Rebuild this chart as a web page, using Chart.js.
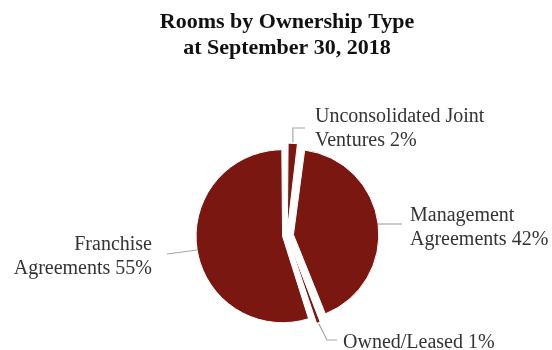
<!DOCTYPE html>
<html>
<head>
<meta charset="utf-8">
<script src="https://cdn.jsdelivr.net/npm/chart.js@4"></script>
<style>
  body { margin: 0; background: #fff; }
  canvas { display: block; }
</style>
</head>
<body>
<canvas id="roomsChart" width="552" height="350"></canvas>
<script>
// data
const categories = ['Unconsolidated Joint Ventures', 'Management Agreements', 'Owned/Leased', 'Franchise Agreements'];
const shares = [2, 42, 1, 55];
// label text, the share is added to the last line
const labelLines = [
    ['Unconsolidated Joint', 'Ventures'],
    ['Management', 'Agreements'],
    ['Owned/Leased'],
    ['Franchise', 'Agreements']
];
const titleLines = ['Rooms by Ownership Type', 'at September 30, 2018'];

const sliceColor = '#7a1710';
const textFont = '20px "Liberation Serif", "Times New Roman", serif';

// where each label sits and how its leader line runs
const labelLayout = [
    { x: 315, y: 122, align: 'left', start: 'mid', path: [['startX', 128], [305, 128]] },
    { x: 410, y: 221, align: 'left', start: { y: 224, side: 1 }, path: [[402, 224]] },
    { x: 343, y: 348, align: 'left', start: 'mid', path: [[327, 340], [337, 340]] },
    { x: 152, y: 250, align: 'right', start: { y: 250, side: -1 }, path: [[167, 254]] }
];
const lineGap = 24;

// same shift / growth that ArcElement uses for options.offset
function arcGeom(arc) {
    const p = arc.getProps(['x', 'y', 'startAngle', 'endAngle', 'outerRadius', 'circumference']);
    const off = (arc.options.offset || 0) / 4;
    const half = (p.startAngle + p.endAngle) / 2;
    const fix = 1 - Math.sin(Math.min(Math.PI, p.circumference || 0));
    return {
        cx: p.x + Math.cos(half) * off,
        cy: p.y + Math.sin(half) * off,
        r: p.outerRadius + off * fix,
        half: half
    };
}

const sliceLabels = {
    id: 'sliceLabels',
    afterDraw(chart) {
        const ctx = chart.ctx;
        const arcs = chart.getDatasetMeta(0).data;
        ctx.save();
        arcs.forEach((arc, i) => {
            const g = arcGeom(arc);
            const lay = labelLayout[i];
            let sx, sy;
            if (lay.start === 'mid') {
                sx = g.cx + Math.cos(g.half) * (g.r + 1);
                sy = g.cy + Math.sin(g.half) * (g.r + 1);
            } else {
                const dy = lay.start.y - g.cy;
                sx = g.cx + lay.start.side * Math.sqrt(Math.max(g.r * g.r - dy * dy, 0));
                sy = lay.start.y;
            }
            ctx.strokeStyle = '#a8a8a8';
            ctx.lineWidth = 1.2;
            ctx.beginPath();
            ctx.moveTo(sx, sy);
            lay.path.forEach(pt => {
                ctx.lineTo(pt[0] === 'startX' ? sx : pt[0], pt[1]);
            });
            ctx.stroke();

            ctx.font = textFont;
            ctx.fillStyle = '#333';
            ctx.textAlign = lay.align;
            ctx.textBaseline = 'alphabetic';
            const lines = labelLines[i].slice();
            lines[lines.length - 1] += ' ' + shares[i] + '%';
            lines.forEach((t, k) => ctx.fillText(t, lay.x, lay.y + k * lineGap));
        });
        ctx.restore();
    }
};

const ctx = document.getElementById('roomsChart').getContext('2d');
new Chart(ctx, {
    type: 'pie',
    data: {
        labels: categories,
        datasets: [{
            data: shares,
            backgroundColor: sliceColor,
            borderColor: '#ffffff',
            borderWidth: 1,
            offset: [22, 26, 22, 18],
            radius: 82,
            clip: false
        }]
    },
    options: {
        responsive: false,
        animation: false,
        events: [],
        devicePixelRatio: 1,
        layout: { padding: { left: 22, right: 0, top: 0, bottom: 0 } },
        plugins: {
            legend: { display: false },
            tooltip: { enabled: false },
            title: {
                display: true,
                text: titleLines,
                color: '#111',
                font: { family: '"Liberation Serif", "Times New Roman", serif', size: 22, weight: 'bold', lineHeight: 1.18 },
                padding: { top: 9.5, bottom: 59.6 }
            }
        }
    },
    plugins: [sliceLabels]
});
</script>
</body>
</html>
